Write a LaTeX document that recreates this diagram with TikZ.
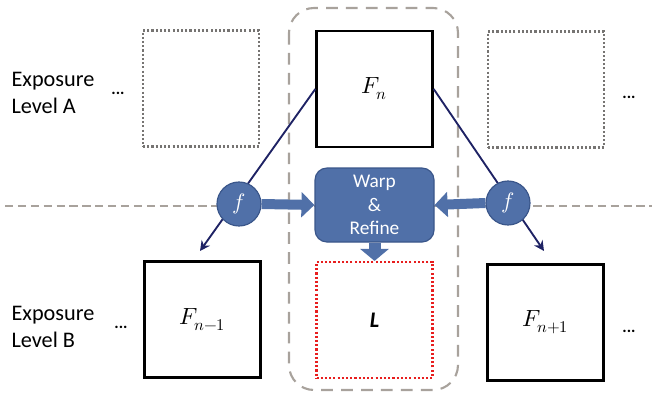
\documentclass[tikz,border=0pt]{standalone}
\usepackage{fontspec}
\usepackage{unicode-math}
\setmainfont{Carlito}
\setmathfont{Latin Modern Math}
\usetikzlibrary{arrows.meta}

\definecolor{warpblue}{RGB}{80,112,168}
\definecolor{warpedge}{RGB}{58,86,138}
\definecolor{navyline}{RGB}{30,34,100}
\definecolor{divgray}{RGB}{168,162,156}
\definecolor{dotgray}{RGB}{118,116,114}
\definecolor{dotred}{RGB}{232,30,30}

\begin{document}
\begin{tikzpicture}[x=0.03cm,y=-0.03cm]
\tikzstyle{every node}+=[inner sep=0pt]
\tikzstyle{frame}=[draw=black,line width=2pt,minimum size=3.48cm,font=\fontsize{20}{22}\selectfont]
\tikzstyle{ghost}=[draw=dotgray,line width=1.8pt,dash pattern=on 1.8pt off 1.8pt,minimum size=3.48cm]
\tikzstyle{target}=[draw=dotred,line width=1.8pt,dash pattern=on 1.8pt off 1.8pt,minimum size=3.48cm,font=\fontsize{19}{22}\selectfont\bfseries\itshape]
\tikzstyle{warpbox}=[draw=warpedge,fill=warpblue,line width=1pt,rounded corners=0.36cm,minimum width=3.57cm,minimum height=2.22cm,text=white,align=center,font=\fontsize{16.5}{20}\selectfont]
\tikzstyle{fnode}=[circle,draw=warpedge,fill=warpblue,line width=1pt,minimum size=1.32cm,text=white,font=\fontsize{19}{20}\selectfont]
\tikzstyle{flow}=[draw=navyline,line width=1.6pt,-{Stealth[length=0.3cm,width=0.3cm]}]
\tikzstyle{blockarrow}=[draw=warpblue,line width=0.3cm,-{Triangle[length=0.39cm,width=0.74cm]}]
\tikzstyle{lbl}=[align=left,font=\fontsize{19}{23}\selectfont]
\tikzstyle{more}=[font=\fontsize{14}{14}\selectfont\bfseries]
\useasboundingbox (0,0) rectangle (654,396);

% exposure divider and centre group
\draw [divgray,line width=2pt,dash pattern=on 7pt off 4pt] (5,206) -- (652,206);
\draw [divgray,line width=1.8pt,dash pattern=on 10pt off 7pt,rounded corners=0.75cm] (289,8) rectangle (458,390);

% level A
\node [ghost] (prevA) at (201,88.5) {};
\node [frame] (fn) at (374.5,89) {$F_n$};
\node [ghost] (nextA) at (546,89.5) {};

% level B
\node [frame] (fprev) at (202.5,319.5) {$F_{n-1}$};
\node [target] (lbox) at (374.5,320) {L};
\node [frame] (fnext) at (545.5,322.5) {$F_{n+1}$};

% mapping lines
\coordinate (endl) at (200,251);
\coordinate (endr) at (544,251);
\draw [flow] (fn.west) -- (endl);
\draw [flow] (fn.east) -- (endr);

\node [fnode] (fl) at (239,204) {$f$};
\node [fnode] (fr) at (508,203) {$f$};
\node [warpbox] (warp) at (374.5,205) {Warp\\\&\\Refine};

\draw [blockarrow] (fl.east) -- (warp.west);
\draw [blockarrow] (fr.west) -- (warp.east);
\draw [blockarrow,line width=0.36cm,-{Triangle[length=0.36cm,width=0.84cm]}] (warp.south) -- (lbox.north);

% labels
\node [lbl] (expA) at (53,93) {Exposure\\Level A};
\node [lbl] (expB) at (53,327) {Exposure\\Level B};
\node [more] (dotsAl) at (118,93) {...};
\node [more] (dotsBl) at (121,327) {...};
\node [more] (dotsAr) at (629,97) {...};
\node [more] (dotsBr) at (629,331) {...};
\end{tikzpicture}
\end{document}
